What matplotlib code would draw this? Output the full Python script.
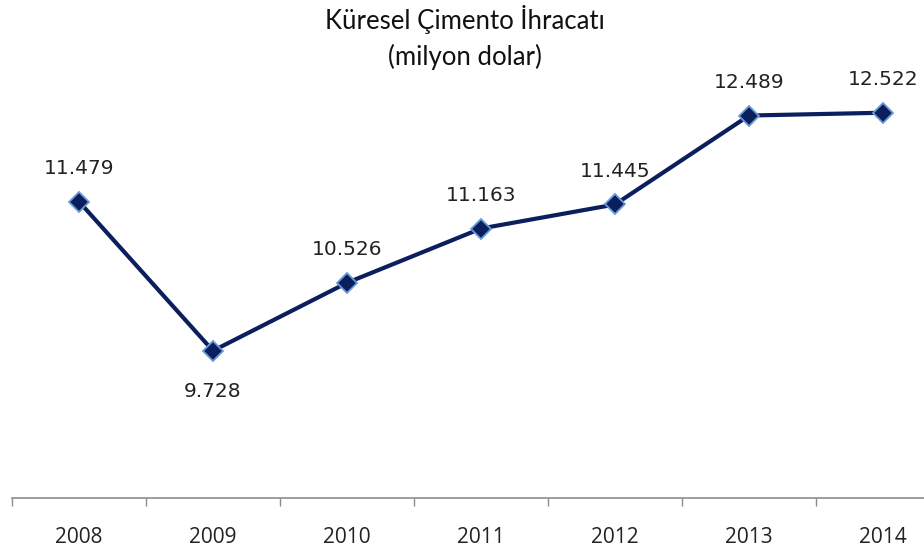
import numpy as np
import matplotlib.pyplot as plt

years = ['2008', '2009', '2010', '2011', '2012', '2013', '2014']
exports = [11.479, 9.728, 10.526, 11.163, 11.445, 12.489, 12.522]
labels = ['11.479', '9.728', '10.526', '11.163', '11.445', '12.489', '12.522']

navy = '#0b1f5e'

fig = plt.figure(figsize=(9.24, 5.5), dpi=100)
ax = fig.add_axes([12 / 924, 52 / 550, 938 / 924, 426 / 550])

x = np.arange(len(years))
ax.plot(x, exports, color=navy, lw=3, marker='D', markersize=10,
        markerfacecolor=navy, markeredgecolor='#6a9ad6', markeredgewidth=1.3,
        zorder=3)

# data labels (2009 goes below the point)
for xi, v, t in zip(x, exports, labels):
    dy = -29 if t == '9.728' else 24
    ax.annotate(t, (xi, v), xytext=(0, dy), textcoords='offset points',
                ha='center', va='center', fontsize=14.5,
                family='DejaVu Sans', color='#222222')

ax.set_xlim(-0.5, len(years) - 0.5)
ax.set_ylim(8, 13)
ax.set_xticks(x)
ax.set_xticklabels(years, fontsize=15,
                   family=['Liberation Sans Narrow', 'Open Sans'],
                   color='#222222')
ax.set_xticks(np.arange(-0.5, len(years)), minor=True)
ax.tick_params(axis='x', which='major', length=0, pad=21)
ax.tick_params(axis='x', which='minor', length=6, color='#8c8c8c', width=1)
ax.set_yticks([])

for s in ['top', 'right', 'left']:
    ax.spines[s].set_visible(False)
ax.spines['bottom'].set_color('#8c8c8c')
ax.spines['bottom'].set_linewidth(1.2)

fig.text(0.503, 0.99, 'Küresel Çimento İhracatı\n(milyon dolar)', ha='center',
         va='top', fontsize=18.5, family='Lato', linespacing=1.45,
         color='#111111')

fig.savefig('out.png', dpi=100)
